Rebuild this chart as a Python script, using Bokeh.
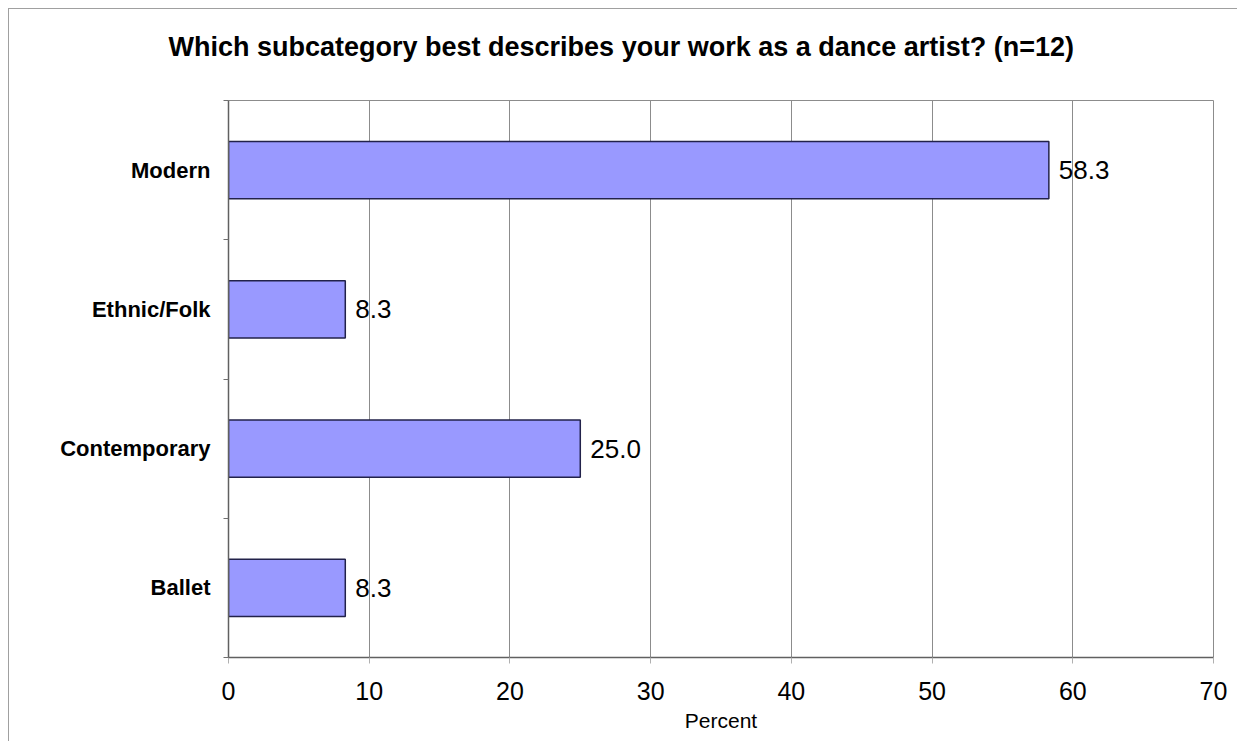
from bokeh.plotting import figure
from bokeh.models import ColumnDataSource, FixedTicker, LabelSet, Title, Range1d
from bokeh.core.properties import value
from bokeh.embed import file_html
from bokeh.resources import INLINE

categories = ["Ballet", "Contemporary", "Ethnic/Folk", "Modern"]
values = [8.3, 25.0, 8.3, 58.3]
x_ticks = [0, 10, 20, 30, 40, 50, 60, 70]
title_text = "Which subcategory best describes your work as a dance artist? (n=12)"

ypos = [i + 0.5 for i in range(len(categories))]
src = ColumnDataSource(dict(y=ypos, v=values, lab=[f"{v:.1f}" for v in values]))

p = figure(width=1229, height=733, output_backend="svg", toolbar_location=None,
           x_range=Range1d(0, 70), y_range=Range1d(0, len(categories)),
           min_border_left=219, min_border_right=25, min_border_top=0, min_border_bottom=85)
p.styles = {"margin": "8px 0 0 8px",
            "border-left": "1px solid #a0a0a0",
            "border-top": "1px solid #a0a0a0"}

p.title = None
spacer = Title(text=" ", text_font_size="1px", standoff=15)
p.add_layout(spacer, "above")
title = Title(text=title_text, align="left", offset=-60, standoff=41,
              text_font="Liberation Sans", text_font_size="27px",
              text_font_style="bold", text_color="black")
p.add_layout(title, "above")

p.hbar(y="y", right="v", left=0, height=0.41, source=src,
       fill_color="#9999FF", line_color="#22224a", line_width=1.5)

labels = LabelSet(x="v", y="y", text="lab", source=src, x_offset=10,
                  text_baseline="middle", text_font=value("Liberation Sans"),
                  text_font_size="26px", text_color="black")
p.add_layout(labels)

p.outline_line_color = "#8c8c8c"
p.outline_line_width = 1
p.ygrid.grid_line_color = None
p.xgrid.grid_line_color = "#8c8c8c"
p.xgrid.grid_line_width = 1
p.xgrid.ticker = FixedTicker(ticks=x_ticks)

p.xaxis.ticker = FixedTicker(ticks=x_ticks)
p.xaxis.axis_line_color = "#606060"
p.xaxis.axis_line_width = 1.5
p.xaxis.major_tick_line_color = "#b0b0b0"
p.xaxis.major_tick_out = 6
p.xaxis.major_tick_in = 0
p.xaxis.minor_tick_line_color = None
p.xaxis.major_label_standoff = 18
p.xaxis.major_label_text_font = "Liberation Sans"
p.xaxis.major_label_text_font_size = "25px"
p.xaxis.major_label_text_color = "black"
p.xaxis.axis_label = "Percent"
p.xaxis.axis_label_text_font = "Liberation Sans"
p.xaxis.axis_label_text_font_size = "21px"
p.xaxis.axis_label_text_font_style = "normal"
p.xaxis.axis_label_text_color = "black"
p.xaxis.axis_label_standoff = 6

p.yaxis.ticker = FixedTicker(ticks=ypos, minor_ticks=list(range(len(categories) + 1)))
p.yaxis.major_label_overrides = {y: c for y, c in zip(ypos, categories)}
p.yaxis.axis_line_color = "#606060"
p.yaxis.axis_line_width = 1.5
p.yaxis.major_tick_line_color = None
p.yaxis.major_tick_out = 0
p.yaxis.major_tick_in = 0
p.yaxis.minor_tick_line_color = "#707070"
p.yaxis.minor_tick_out = 5
p.yaxis.minor_tick_in = 0
p.yaxis.major_label_standoff = 13
p.yaxis.major_label_text_font = "Liberation Sans"
p.yaxis.major_label_text_font_size = "22px"
p.yaxis.major_label_text_font_style = "bold"
p.yaxis.major_label_text_color = "black"

open("out.html", "w").write(file_html(p, INLINE))
